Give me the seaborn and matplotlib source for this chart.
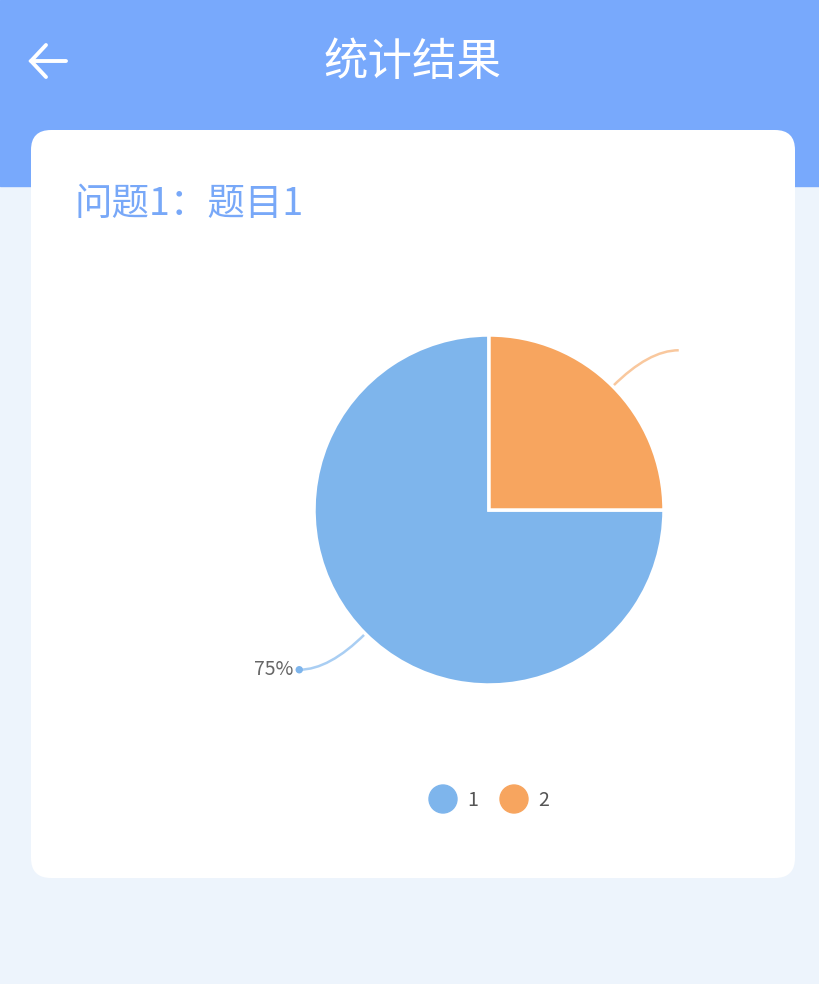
import numpy as np
import seaborn as sns
import matplotlib.pyplot as plt
from matplotlib.patches import FancyBboxPatch, Rectangle, Circle, PathPatch
from matplotlib.path import Path

# data
labels = ["1", "2"]
values = [75, 25]
colors = ["#7EB5EC", "#F7A55F"]
line_colors = ["#A9CEF3", "#F9C89E"]
page_title = "统计结果"
card_title = "问题1：题目1"

sns.set_theme(style="white")
plt.rcParams['font.family'] = ['Noto Sans CJK SC', 'DejaVu Sans']
palette = sns.color_palette(colors)

W, H = 820, 984
fig = plt.figure(figsize=(W / 100, H / 100), dpi=100)
ax = fig.add_axes([0, 0, 1, 1])


def Y(y):
    # screen y (down) -> axes y (up)
    return H - y


# page background + header
ax.add_patch(Rectangle((0, 0), W, H, color="#EDF4FC", zorder=0))
ax.add_patch(Rectangle((0, Y(186)), W, 186, color="#78A9FC", zorder=1))
ax.text(413, Y(62), page_title, color="white", fontsize=32, ha="center", va="center", zorder=3)
# back arrow
ax.plot([31, 66], [Y(61), Y(61)], color="white", lw=2.8, solid_capstyle="round", zorder=3)
ax.plot([46, 31, 46], [Y(45), Y(61), Y(77)], color="white", lw=2.8,
        solid_capstyle="round", solid_joinstyle="miter", zorder=3)

# card
ax.add_patch(FancyBboxPatch((31, Y(878)), 764, 748, boxstyle="round,pad=0,rounding_size=20",
                            facecolor="white", edgecolor="none", zorder=2))
ax.text(75, Y(205), card_title, color="#78A8F8", fontsize=27, ha="left", va="center", zorder=3)

# pie
cx, cy, r = 489, Y(510), 175
wedges, _ = ax.pie(values, colors=palette, startangle=0, counterclock=False,
                   center=(cx, cy), radius=r,
                   wedgeprops=dict(edgecolor="white", linewidth=2.5))
for w in wedges:
    w.set_zorder(4)

# leader lines (smooth) + label
total = sum(values)
for i, w in enumerate(wedges):
    mid = np.deg2rad((w.theta1 + w.theta2) / 2)
    dx, dy = np.cos(mid), np.sin(mid)
    sx, sy = cx + r * dx, cy + r * dy
    ey = sy + 36 * np.sign(dy)
    kx = sx + 36 * np.sign(dx)
    ex = kx + 30 * np.sign(dx)
    path = Path([(sx, sy), (kx, ey), (ex, ey)], [Path.MOVETO, Path.CURVE3, Path.CURVE3])
    ax.add_patch(PathPatch(path, facecolor="none", edgecolor=line_colors[i], lw=1.8, zorder=3))
    if dx < 0:
        # only the left label is visible in the reference (right one is outside the canvas)
        ax.add_patch(Circle((ex, ey), 3, color=colors[i], zorder=4))
        ax.text(ex - 6, ey, f"{values[i] / total:.0%}", color="#666666", fontsize=14,
                ha="right", va="center", zorder=4)

# legend
lx = [443, 514]
for i, lab in enumerate(labels):
    ax.add_patch(Circle((lx[i], Y(799)), 14, color=colors[i], zorder=4))
    ax.text(lx[i] + 24, Y(800), lab, color="#555555", fontsize=14, ha="left", va="center", zorder=4)

ax.set_xlim(0, W)
ax.set_ylim(0, H)
ax.set_aspect("auto")
ax.axis("off")

fig.savefig("out.png", dpi=100)
